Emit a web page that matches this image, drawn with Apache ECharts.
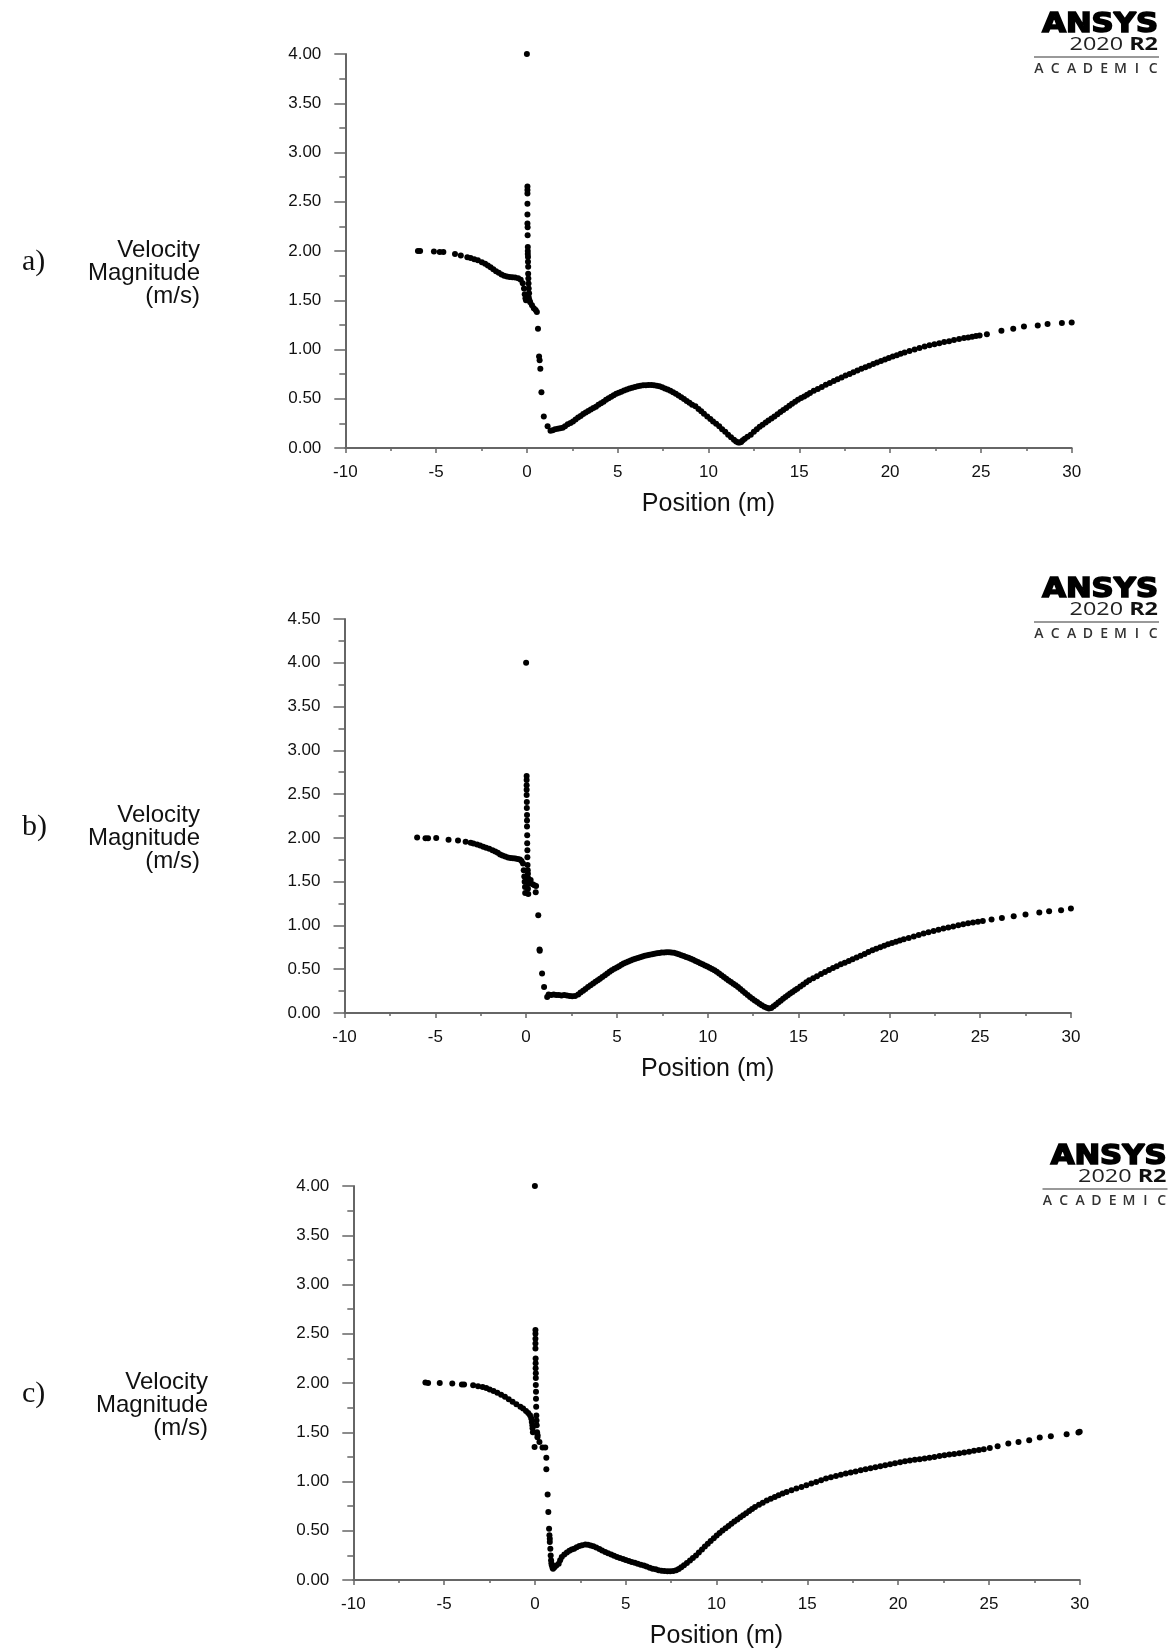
<!DOCTYPE html>
<html>
<head>
<meta charset="utf-8">
<script src="https://cdn.jsdelivr.net/npm/echarts@6/dist/echarts.min.js"></script>
<style>
html,body{margin:0;padding:0;background:#fff;}
#chart{width:1168px;height:1650px;}
</style>
</head>
<body>
<div id="chart"></div>
<script>
// ---- Data (Position m, Velocity magnitude m/s) ----
const panelLetters = ['a)', 'b)', 'c)'];
const xTitle = 'Position (m)';
const yTitle = 'Velocity\nMagnitude\n(m/s)';
const xRange = [-10, 30];
const yMaxes = [4.0, 4.5, 4.0];

const panelA = [
[-6.00,2.00],[-5.88,2.00],[-5.12,1.995],[-4.80,1.99],[-4.60,1.99],[-3.96,1.97],[-3.64,1.955],[-3.28,1.937],[-3.10,1.928],[-2.90,1.917],[-2.70,1.905],[-2.48,1.886],[-2.30,1.87],[-2.15,1.852],[-2.00,1.835],[-1.85,1.815],[-1.70,1.795],[-1.55,1.778],[-1.40,1.762],[-1.25,1.75],[-1.10,1.742],[-0.95,1.736],[-0.80,1.733],[-0.65,1.73],[-0.48,1.724],[-0.34,1.707],[-0.23,1.673],[-0.16,1.62],[-0.12,1.56],[-0.08,1.52],[-0.05,1.50],
[0.00,4.00],
[0.03,2.654],[0.03,2.62],[0.03,2.585],[0.03,2.48],[0.03,2.37],[0.03,2.28],[0.04,2.24],[0.04,2.16],[0.05,2.04],[0.05,2.00],[0.05,1.97],[0.06,1.94],[0.06,1.89],[0.07,1.84],[0.07,1.77],[0.08,1.72],[0.09,1.67],[0.10,1.62],[0.12,1.57],[0.10,1.53],[0.14,1.50],[0.18,1.48],
[0.28,1.45],[0.38,1.42],[0.48,1.40],[0.55,1.38],[0.61,1.21],[0.67,0.93],[0.70,0.89],[0.74,0.805],[0.80,0.565],[0.93,0.32],[1.14,0.22],[1.30,0.176],[1.42,0.18],[1.55,0.19],[1.70,0.195],[1.83,0.20],[1.97,0.205],[2.10,0.22],[2.25,0.24],[2.40,0.255],[2.54,0.27],
[2.68,0.29],[2.82,0.31],[2.96,0.325],[3.10,0.345],[3.24,0.36],[3.38,0.375],[3.52,0.39],[3.66,0.405],[3.80,0.42],[3.94,0.44],[4.08,0.455],[4.22,0.47],[4.36,0.49],[4.50,0.505],[4.64,0.52],[4.78,0.535],[4.92,0.55],[5.06,0.56],[5.20,0.572],[5.35,0.585],[5.50,0.595],[5.65,0.605],[5.80,0.612],[5.95,0.62],[6.10,0.627],[6.25,0.632],[6.40,0.636],[6.55,0.638],[6.70,0.64],[6.85,0.64],[7.00,0.638],[7.15,0.633],[7.30,0.626],[7.45,0.617],[7.60,0.605],[7.75,0.593],[7.90,0.58],[8.05,0.565],[8.20,0.55],[8.35,0.533],[8.50,0.515],[8.65,0.497],[8.80,0.478],[8.95,0.46],[9.10,0.44],[9.28,0.423],[9.45,0.397],[9.60,0.372],[9.75,0.348],[9.93,0.321],[10.10,0.295],[10.25,0.27],[10.42,0.245],[10.59,0.22],[10.75,0.19],[10.92,0.165],[11.08,0.135],[11.24,0.11],[11.40,0.085],[11.52,0.065],[11.63,0.057],[11.72,0.055],[11.80,0.062],[11.89,0.078],[12.00,0.095],[12.15,0.113],[12.33,0.135],[12.50,0.165],[12.66,0.19],[12.82,0.215],[12.98,0.237],[13.15,0.26],[13.30,0.28],[13.47,0.30],[13.63,0.321],[13.80,0.343],[13.96,0.365],[14.12,0.386],[14.28,0.406],[14.45,0.428],[14.60,0.448],[14.77,0.47],[14.93,0.49],[15.10,0.507],[15.27,0.524],[15.43,0.541],[15.59,0.558],[15.80,0.58],[16.02,0.60],[16.24,0.62],[16.46,0.642],[16.68,0.66],[16.90,0.68],[17.11,0.698],[17.33,0.717],[17.55,0.735],[17.77,0.752],[17.98,0.77],[18.20,0.788],[18.42,0.804],[18.64,0.82],[18.85,0.836],[19.07,0.852],[19.28,0.867],[19.50,0.883],[19.72,0.898],[19.93,0.913],[20.15,0.928],[20.37,0.942],[20.58,0.956],[20.80,0.97],[21.07,0.985],[21.35,1.00],[21.62,1.016],[21.90,1.031],[22.17,1.042],[22.44,1.053],[22.71,1.064],[22.98,1.075],[23.25,1.085],[23.52,1.096],[23.80,1.106],[24.07,1.116],[24.30,1.123],[24.52,1.13],[24.73,1.137],[24.93,1.143],
[25.33,1.156],[26.13,1.19],[26.78,1.21],[27.37,1.234],[28.13,1.244],[28.67,1.258],[29.46,1.268],[30.00,1.275]
];

const panelB = [
[-6.00,2.005],[-5.54,1.997],[-5.40,1.997],[-4.95,2.00],[-4.27,1.98],[-3.75,1.97],[-3.33,1.955],[-3.05,1.945],[-2.90,1.936],[-2.70,1.925],[-2.53,1.912],[-2.36,1.90],[-2.20,1.888],[-2.03,1.875],[-1.85,1.86],[-1.70,1.845],[-1.56,1.83],[-1.43,1.81],[-1.30,1.80],[-1.15,1.788],[-1.00,1.776],[-0.86,1.77],[-0.72,1.767],[-0.59,1.764],[-0.46,1.76],[-0.34,1.753],[-0.25,1.735],[-0.17,1.707],[-0.13,1.63],[-0.10,1.56],[-0.08,1.50],[-0.06,1.44],[-0.05,1.37],
[0.00,4.00],[0.03,2.706],[0.03,2.66],[0.03,2.60],[0.03,2.55],[0.03,2.49],[0.04,2.41],[0.04,2.34],[0.05,2.26],[0.05,2.20],[0.05,2.13],[0.06,2.03],[0.06,1.94],[0.07,1.86],[0.07,1.78],[0.08,1.69],[0.09,1.63],[0.10,1.59],[0.12,1.54],[0.14,1.48],[0.10,1.42],[0.12,1.36],
[0.25,1.52],[0.36,1.47],[0.46,1.46],[0.55,1.45],[0.53,1.38],[0.67,1.117],[0.74,0.724],[0.75,0.71],[0.88,0.45],[0.99,0.297],[1.16,0.183],[1.24,0.21],[1.38,0.205],[1.52,0.21],[1.66,0.205],[1.80,0.205],[1.95,0.20],[2.10,0.205],[2.25,0.20],[2.40,0.195],[2.54,0.19],[2.70,0.195],[2.87,0.21],
[3.00,0.235],[3.14,0.255],[3.27,0.275],[3.41,0.297],[3.55,0.318],[3.69,0.338],[3.82,0.357],[3.95,0.375],[4.07,0.39],[4.20,0.41],[4.34,0.43],[4.47,0.45],[4.60,0.47],[4.72,0.488],[4.86,0.505],[5.00,0.52],[5.12,0.535],[5.25,0.55],[5.37,0.564],[5.50,0.577],[5.63,0.588],[5.76,0.60],[5.89,0.61],[6.02,0.62],[6.15,0.629],[6.28,0.638],[6.41,0.646],[6.54,0.653],[6.67,0.66],[6.80,0.666],[6.94,0.672],[7.07,0.677],[7.20,0.682],[7.33,0.686],[7.46,0.69],[7.60,0.692],[7.73,0.694],[7.87,0.694],[8.00,0.692],[8.14,0.688],[8.28,0.68],[8.41,0.67],[8.55,0.66],[8.68,0.65],[8.81,0.64],[8.94,0.63],[9.07,0.62],[9.20,0.608],[9.33,0.595],[9.46,0.582],[9.59,0.569],[9.72,0.556],[9.85,0.543],[9.98,0.53],[10.11,0.516],[10.24,0.502],[10.37,0.488],[10.50,0.47],[10.63,0.45],[10.76,0.43],[10.89,0.41],[11.02,0.39],[11.15,0.372],[11.28,0.353],[11.41,0.335],[11.54,0.316],[11.67,0.297],[11.80,0.275],[11.93,0.252],[12.06,0.229],[12.20,0.206],[12.33,0.183],[12.46,0.163],[12.59,0.144],[12.72,0.125],[12.85,0.106],[12.98,0.088],[13.12,0.072],[13.25,0.06],[13.37,0.05],[13.50,0.058],[13.63,0.076],[13.76,0.097],[13.89,0.119],[14.02,0.14],[14.15,0.162],[14.28,0.183],[14.41,0.203],[14.54,0.222],[14.67,0.241],[14.80,0.26],[14.93,0.278],[15.10,0.302],[15.26,0.326],[15.43,0.35],[15.59,0.373],[15.81,0.397],[16.02,0.421],[16.24,0.445],[16.46,0.469],[16.68,0.491],[16.90,0.513],[17.11,0.535],[17.33,0.556],[17.55,0.575],[17.77,0.595],[17.98,0.614],[18.20,0.633],[18.42,0.654],[18.64,0.675],[18.85,0.696],[19.07,0.716],[19.28,0.733],[19.50,0.75],[19.72,0.768],[19.93,0.785],[20.15,0.799],[20.37,0.814],[20.58,0.828],[20.80,0.842],[21.07,0.858],[21.35,0.875],[21.62,0.891],[21.89,0.907],[22.16,0.921],[22.44,0.936],[22.71,0.95],[22.98,0.964],[23.25,0.976],[23.52,0.989],[23.80,1.001],[24.07,1.014],[24.34,1.024],[24.61,1.033],[24.88,1.043],[25.15,1.052],
[25.63,1.067],[26.20,1.086],[26.85,1.105],[27.50,1.124],[28.26,1.147],[28.80,1.162],[29.46,1.174],[30.00,1.193]
];

const panelC = [
[-6.03,2.005],[-5.88,2.00],[-5.24,2.00],[-4.55,1.995],[-4.02,1.985],[-3.90,1.985],[-3.40,1.978],[-3.13,1.968],[-2.88,1.96],[-2.68,1.948],[-2.49,1.934],[-2.28,1.918],[-2.07,1.90],[-1.86,1.88],[-1.65,1.86],[-1.44,1.835],[-1.23,1.81],[-1.02,1.785],[-0.80,1.76],[-0.65,1.74],[-0.49,1.717],[-0.37,1.695],[-0.27,1.673],[-0.20,1.64],[-0.17,1.605],[-0.14,1.57],[-0.13,1.54],[-0.11,1.50],
[0.00,4.00],[0.03,2.537],[0.03,2.50],[0.03,2.45],[0.03,2.40],[0.03,2.35],[0.04,2.25],[0.04,2.20],[0.04,2.15],[0.05,2.10],[0.05,2.05],[0.05,1.98],[0.06,1.91],[0.06,1.84],[0.07,1.76],[0.08,1.67],[0.09,1.62],[0.10,1.57],[0.12,1.50],[0.14,1.45],[-0.02,1.35],
[0.15,1.47],[0.25,1.40],[0.42,1.345],[0.57,1.345],[0.63,1.24],[0.63,1.125],[0.70,0.867],[0.74,0.69],[0.78,0.52],[0.80,0.454],[0.82,0.42],[0.82,0.386],[0.85,0.318],[0.87,0.25],[0.89,0.20],[0.91,0.17],[0.93,0.15],[0.97,0.125],[1.00,0.115],
[1.08,0.13],[1.18,0.148],[1.31,0.166],[1.39,0.2],[1.48,0.234],[1.62,0.258],[1.76,0.28],[1.90,0.297],[2.03,0.31],[2.16,0.318],[2.30,0.333],[2.45,0.345],[2.60,0.354],[2.78,0.36],[2.92,0.358],[3.07,0.35],[3.22,0.342],[3.38,0.33],[3.55,0.315],[3.70,0.30],[3.87,0.285],[4.03,0.272],[4.20,0.258],[4.36,0.246],[4.52,0.234],[4.68,0.224],[4.85,0.213],[5.00,0.203],[5.17,0.193],[5.33,0.184],[5.50,0.175],[5.66,0.165],[5.83,0.156],[6.00,0.146],[6.15,0.136],[6.32,0.125],[6.48,0.115],[6.65,0.108],[6.81,0.10],[6.97,0.094],[7.13,0.091],[7.30,0.09],[7.45,0.09],[7.62,0.092],[7.78,0.098],[7.92,0.112],[8.06,0.13],[8.21,0.149],[8.37,0.172],[8.54,0.198],[8.70,0.224],[8.87,0.25],[9.03,0.28],[9.20,0.31],[9.36,0.34],[9.52,0.369],[9.68,0.397],[9.85,0.424],[10.01,0.451],[10.17,0.478],[10.33,0.502],[10.50,0.525],[10.66,0.549],[10.82,0.572],[10.98,0.594],[11.15,0.615],[11.31,0.636],[11.47,0.657],[11.63,0.678],[11.80,0.70],[11.96,0.721],[12.12,0.742],[12.34,0.764],[12.55,0.785],[12.77,0.806],[12.99,0.826],[13.21,0.843],[13.42,0.86],[13.64,0.877],[13.86,0.894],[14.13,0.911],[14.40,0.928],[14.68,0.945],[14.95,0.962],[15.22,0.979],[15.49,0.996],[15.76,1.013],[16.03,1.03],[16.30,1.043],[16.58,1.055],[16.85,1.068],[17.12,1.08],[17.39,1.091],[17.66,1.102],[17.94,1.113],[18.21,1.124],[18.48,1.134],[18.75,1.145],[19.02,1.155],[19.29,1.165],[19.56,1.175],[19.83,1.186],[20.11,1.196],[20.38,1.206],[20.65,1.213],[20.92,1.22],[21.19,1.226],[21.46,1.233],[21.73,1.242],[22.00,1.25],[22.28,1.259],[22.55,1.267],[22.82,1.274],[23.09,1.28],[23.37,1.287],[23.64,1.294],[23.91,1.302],[24.18,1.311],[24.45,1.32],[24.72,1.328],
[25.05,1.341],[25.48,1.358],[26.07,1.385],[26.63,1.402],[27.22,1.419],[27.80,1.446],[28.41,1.46],[29.28,1.48],[29.93,1.497],[30.00,1.504]
];

const panelData = [panelA, panelB, panelC];
const logoWord = 'ANSYS';
const logoVersion = '2020';
const logoRelease = 'R2';
const logoEdition = 'ACADEMIC';

// ---- Layout (pixels) ----
const gridLefts = [345.3, 344.5, 353.3];
const gridTops = [54, 619, 1186];
const gridWidth = 726.4;
const gridHeight = 394;
const titleRights = [200, 200, 208];
const logoRights = [1158, 1158, 1166.5];

const FONT = '"Liberation Sans", Arial, sans-serif';
const axisColor = '#666';
const textColor = '#111';

const chart = echarts.init(document.getElementById('chart'), null, {renderer: 'canvas'});

const grids = [], xAxes = [], yAxes = [], series = [], graphics = [];
for (let i = 0; i < 3; i++) {
  grids.push({left: gridLefts[i], top: gridTops[i], width: gridWidth, height: gridHeight, containLabel: false});
  xAxes.push({
    type: 'value', gridIndex: i, min: xRange[0], max: xRange[1], interval: 5,
    axisLine: {show: true, onZero: false, lineStyle: {color: axisColor, width: 2}},
    axisTick: {show: true, length: 5, lineStyle: {color: axisColor, width: 1.5}},
    minorTick: {show: true, splitNumber: 2, length: 3, lineStyle: {color: axisColor, width: 1.5}},
    splitLine: {show: false}, minorSplitLine: {show: false},
    axisLabel: {margin: 16, fontSize: 17, fontFamily: FONT, color: textColor},
    name: xTitle, nameLocation: 'middle', nameGap: 44,
    nameTextStyle: {fontSize: 25, fontFamily: FONT, color: '#111'}
  });
  yAxes.push({
    type: 'value', gridIndex: i, min: 0, max: yMaxes[i], interval: 0.5,
    axisLine: {show: true, onZero: false, lineStyle: {color: axisColor, width: 2}},
    axisTick: {show: true, length: 11, lineStyle: {color: axisColor, width: 1.5}},
    minorTick: {show: true, splitNumber: 2, length: 6, lineStyle: {color: axisColor, width: 1.5}},
    splitLine: {show: false}, minorSplitLine: {show: false},
    axisLabel: {margin: 24, fontSize: 17, fontFamily: FONT, color: textColor,
      formatter: v => v.toFixed(2)}
  });
  series.push({
    type: 'scatter', xAxisIndex: i, yAxisIndex: i, data: panelData[i],
    symbol: 'circle', symbolSize: 6, itemStyle: {color: '#000', opacity: 1},
    silent: true, animation: false
  });

  const top = gridTops[i];
  // axis title (left)
  graphics.push({type: 'text', x: titleRights[i], y: top + 185, silent: true,
    style: {text: yTitle, fontSize: 24, fontFamily: FONT, fill: '#111',
      align: 'right', verticalAlign: 'top', lineHeight: 23}});
  // panel letter
  graphics.push({type: 'text', x: 22, y: top + 208, silent: true,
    style: {text: panelLetters[i], fontSize: 30, fontFamily: '"Liberation Serif", "Times New Roman", serif',
      fill: '#111', align: 'left', verticalAlign: 'middle'}});
  // logo
  const R = logoRights[i];
  graphics.push({type: 'text', x: R, y: top - 29, scaleX: 1.18, silent: true,
    style: {text: logoWord, fontSize: 26, fontWeight: 'bold', fontFamily: '"DejaVu Sans", sans-serif',
      fill: '#000', stroke: '#000', lineWidth: 1.6, align: 'right', verticalAlign: 'middle'}});
  graphics.push({type: 'text', x: R, y: top - 9, scaleX: 1.3, silent: true,
    style: {text: logoVersion + ' {b|' + logoRelease + '}', fontSize: 18, fontFamily: '"Open Sans", sans-serif',
      fill: '#222', align: 'right', verticalAlign: 'middle',
      rich: {b: {fontSize: 18, fontWeight: 'bold', fontFamily: '"Open Sans", sans-serif', fill: '#111'}}}});
  graphics.push({type: 'line', silent: true,
    shape: {x1: R - 124, y1: top + 3, x2: R + 1, y2: top + 3},
    style: {stroke: '#777', lineWidth: 1.5}});
  for (let k = 0; k < logoEdition.length; k++) {
    graphics.push({type: 'text', x: R - 124 + 5 + k * 16.3, y: top + 15, silent: true,
      style: {text: logoEdition[k], fontSize: 14, fontWeight: 600, fontFamily: '"Open Sans", sans-serif',
        fill: '#333', align: 'center', verticalAlign: 'middle'}});
  }
}

chart.setOption({
  animation: false,
  backgroundColor: '#fff',
  grid: grids, xAxis: xAxes, yAxis: yAxes, series: series,
  graphic: {elements: graphics}
});
</script>
</body>
</html>
